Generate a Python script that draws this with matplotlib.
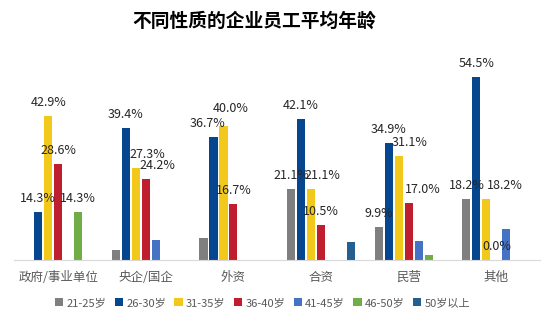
import numpy as np
import matplotlib.pyplot as plt

plt.rcParams['font.family'] = ['Noto Sans CJK SC', 'DejaVu Sans']

# 企业性质与年龄段
categories = ['政府/事业单位', '央企/国企', '外资', '合资', '民营', '其他']
age_groups = ['21-25岁', '26-30岁', '31-35岁', '36-40岁', '41-45岁', '46-50岁', '50岁以上']
colors = ['#7f7f7f', '#06468f', '#f2c81a', '#be1e2d', '#4472c4', '#70ad47', '#255e91']

# 各年龄段占比（%）
age_21_25 = [0.0, 3.0, 6.7, 21.1, 9.9, 18.2]
age_26_30 = [14.3, 39.4, 36.7, 42.1, 34.9, 54.5]
age_31_35 = [42.9, 27.3, 40.0, 21.1, 31.1, 18.2]
age_36_40 = [28.6, 24.2, 16.7, 10.5, 17.0, 0.0]
age_41_45 = [0.0, 6.1, 0.0, 0.0, 5.7, 9.1]
age_46_50 = [14.3, 0.0, 0.0, 0.0, 1.4, 0.0]
age_50_up = [0.0, 0.0, 0.0, 5.3, 0.0, 0.0]
series = [age_21_25, age_26_30, age_31_35, age_36_40, age_41_45, age_46_50, age_50_up]

# 需要显示数据标签的柱子
show_label = [
    [False, False, False, True, True, True],
    [True, True, True, True, True, True],
    [True, True, True, True, True, True],
    [True, True, True, True, True, True],
    [False, False, False, False, False, False],
    [True, False, False, False, False, False],
    [False, False, False, False, False, False],
]

# 标签位置微调 (系列, 类别) -> (dx, dy)，单位为磅
label_shift = {
    (2, 1): (8, 0), (3, 1): (8, 0),
    (1, 2): (-4, 0), (2, 2): (5, 3),
    (2, 3): (8, 0),
    (2, 4): (8, 0), (3, 4): (10, 0),
    (2, 5): (13, 0),
}

fig = plt.figure(figsize=(5.54, 3.23), dpi=100)
ax = fig.add_axes([0.026, 0.195, 0.949, 0.624])

x = np.arange(len(categories))
step = 0.114
width = 0.092
for i, (vals, color) in enumerate(zip(series, colors)):
    pos = x + (i - 3) * step
    ax.bar(pos, vals, width, color=color, label=age_groups[i])
    for j, (p, v, s) in enumerate(zip(pos, vals, show_label[i])):
        if s:
            dx, dy = label_shift.get((i, j), (0, 0))
            ax.annotate(f'{v:.1f}%', (p, v), xytext=(dx, 5 + dy), textcoords='offset points',
                        ha='center', va='bottom', fontsize=9, color='#262626')

ax.set_xlim(-0.5, len(categories) - 0.5)
ax.set_ylim(0, 60)
ax.set_xticks(x)
ax.set_xticklabels(categories, fontsize=9, color='#595959')
ax.tick_params(axis='x', length=0, pad=8)
ax.set_yticks([])
for side in ['left', 'right', 'top']:
    ax.spines[side].set_visible(False)
ax.spines['bottom'].set_color('#d9d9d9')

fig.suptitle('不同性质的企业员工平均年龄', x=0.458, y=0.965, fontsize=13.5, fontweight='bold')

fig.legend(loc='center', bbox_to_anchor=(0.474, 0.062), ncol=7, frameon=False,
           fontsize=8, handlelength=0.75, handleheight=0.75, handletextpad=0.3,
           columnspacing=0.75, labelcolor='#595959')

fig.savefig('out.png', dpi=100)
